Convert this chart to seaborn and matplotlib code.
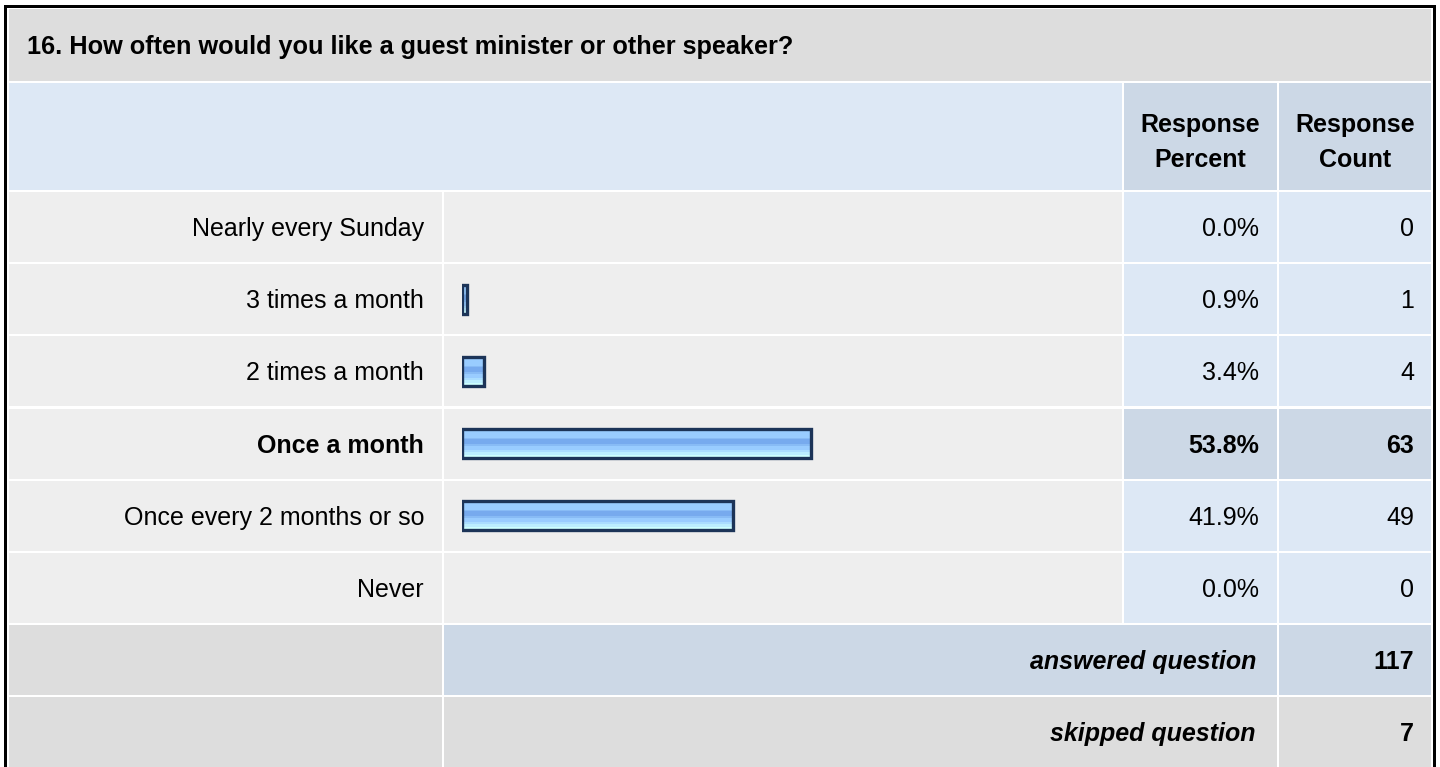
import matplotlib
matplotlib.use("Agg")
import matplotlib.pyplot as plt
import seaborn as sns
import numpy as np
import pandas as pd
from matplotlib.patches import Rectangle
from matplotlib.colors import to_rgb

# ---------------- data ----------------
question = "16. How often would you like a guest minister or other speaker?"
choices = ["Nearly every Sunday", "3 times a month", "2 times a month",
           "Once a month", "Once every 2 months or so", "Never"]
percents = [0.0, 0.9, 3.4, 53.8, 41.9, 0.0]
counts = [0, 1, 4, 63, 49, 0]
header_cols = ["Response\nPercent", "Response\nCount"]
summary_labels = ["answered question", "skipped question"]
summary_values = [117, 7]

# ---------------- style ----------------
sns.set_theme(style="white")
plt.rcParams['font.family'] = ['Liberation Sans', 'DejaVu Sans']

W, H = 1440, 767
fig = plt.figure(figsize=(W / 100, H / 100), dpi=100)
fig.patch.set_facecolor("white")
bg = fig.add_axes([0, 0, 1, 1])
bg.set_xlim(0, W)
bg.set_ylim(H, 0)
bg.axis('off')

GRAY = "#dddddd"
ROW = "#eeeeee"
LBLUE = "#dde8f5"
DBLUE = "#ccd8e6"
FS = 18.0


def cell(x0, x1, y0, y1, color):
    bg.add_patch(Rectangle((x0, y0), x1 - x0, y1 - y0, facecolor=color,
                           edgecolor='none', zorder=1))


def txt(x, ycenter, s, ha='right', weight='normal', style='normal', size=FS):
    cap = 0.716 * size / 0.72
    bg.text(x, ycenter + cap / 2, s, ha=ha, va='baseline',
            fontsize=size, fontweight=weight, fontstyle=style, color='black', zorder=3)


# outer border
bg.add_patch(Rectangle((4, 5), 1432, 800, facecolor='black', edgecolor='none', zorder=0))
bg.add_patch(Rectangle((7, 8), 1426, 800, facecolor='white', edgecolor='none', zorder=0.5))

# columns
LX0, LX1 = 9, 441.5
BX0, BX1 = 444, 1121.5
PX0, PX1 = 1124, 1276.5
CX0, CX1 = 1279, 1431

# title row
cell(LX0, CX1, 9, 80.5, GRAY)
txt(27, 45, question, ha='left', weight='bold', size=18.2)

# header row
HY0, HY1 = 83, 189.5
cell(LX0, BX1, HY0, HY1, LBLUE)
cell(PX0, PX1, HY0, HY1, DBLUE)
cell(CX0, CX1, HY0, HY1, DBLUE)
for (x0, x1), h in zip([(PX0, PX1), (CX0, CX1)], header_cols):
    for k, line in enumerate(h.split("\n")):
        txt((x0 + x1) / 2, 123 + k * 35, line, ha='center', weight='bold')

# data rows
RY0, PITCH, RH = 192, 72.2, 70
imax = int(np.argmax(counts))
for i, (c, p, n) in enumerate(zip(choices, percents, counts)):
    y0 = RY0 + i * PITCH
    y1 = y0 + RH
    yc = (y0 + y1) / 2
    hl = (i == imax)
    cell(LX0, LX1, y0, y1, ROW)
    cell(BX0, BX1, y0, y1, ROW)
    cell(PX0, PX1, y0, y1, DBLUE if hl else LBLUE)
    cell(CX0, CX1, y0, y1, DBLUE if hl else LBLUE)
    w = 'bold' if hl else 'normal'
    txt(424, yc, c, weight=w)
    txt(1259, yc, f"{p:.1f}%", weight=w)
    txt(1414, yc, f"{n}", weight=w)

# summary rows
SY0 = RY0 + 6 * PITCH
for j, (lab, val) in enumerate(zip(summary_labels, summary_values)):
    y0 = SY0 + j * PITCH
    y1 = y0 + RH + 10 if j == 1 else y0 + RH
    yc = y0 + RH / 2
    mid = DBLUE if j == 0 else GRAY
    cell(LX0, LX1, y0, y1, GRAY)
    cell(BX0, PX1, y0, y1, mid)
    cell(CX0, CX1, y0, y1, mid)
    txt(1256, yc, lab, weight='bold', style='italic')
    txt(1414, yc, f"{val}", weight='bold')

# ---------------- bars (seaborn) ----------------
ax_left = 461.5
ax_w = 648.7
top_px = RY0 + RH / 2 - PITCH / 2
ax_h = 6 * PITCH
ax = fig.add_axes([ax_left / W, 1 - (top_px + ax_h) / H, ax_w / W, ax_h / H])
ax.patch.set_alpha(0)

df = pd.DataFrame({"choice": choices, "percent": percents})
sns.barplot(data=df, x="percent", y="choice", orient='h', ax=ax,
            color="#99ccff", edgecolor="#1c3458", linewidth=2.4,
            width=0.4, saturation=1)

grad_cols = (["#99ccff"] * 8 + ["#88bbf5"] + ["#77aaee"] * 4 + ["#88bbf5"] * 2 +
             ["#99ccff"] * 3 + ["#aaddff"] * 2 + ["#bbeeff"] * 2 + ["#ccffff"] * 3)
grad = np.array([[to_rgb(c)] for c in grad_cols])

for patch in ax.patches:
    x0, y0 = patch.get_x(), patch.get_y()
    w, h = patch.get_width(), patch.get_height()
    if w <= 0:
        patch.set_visible(False)
        continue
    ax.imshow(grad, extent=[x0, x0 + w, y0 + h, y0], aspect='auto',
              interpolation='nearest', zorder=1)
    patch.set_facecolor('none')
    patch.set_zorder(2)

ax.set_xlim(0, 100)
ax.set_ylim(5.5, -0.5)
ax.axis('off')

fig.savefig("out.png", dpi=100, facecolor="white")
